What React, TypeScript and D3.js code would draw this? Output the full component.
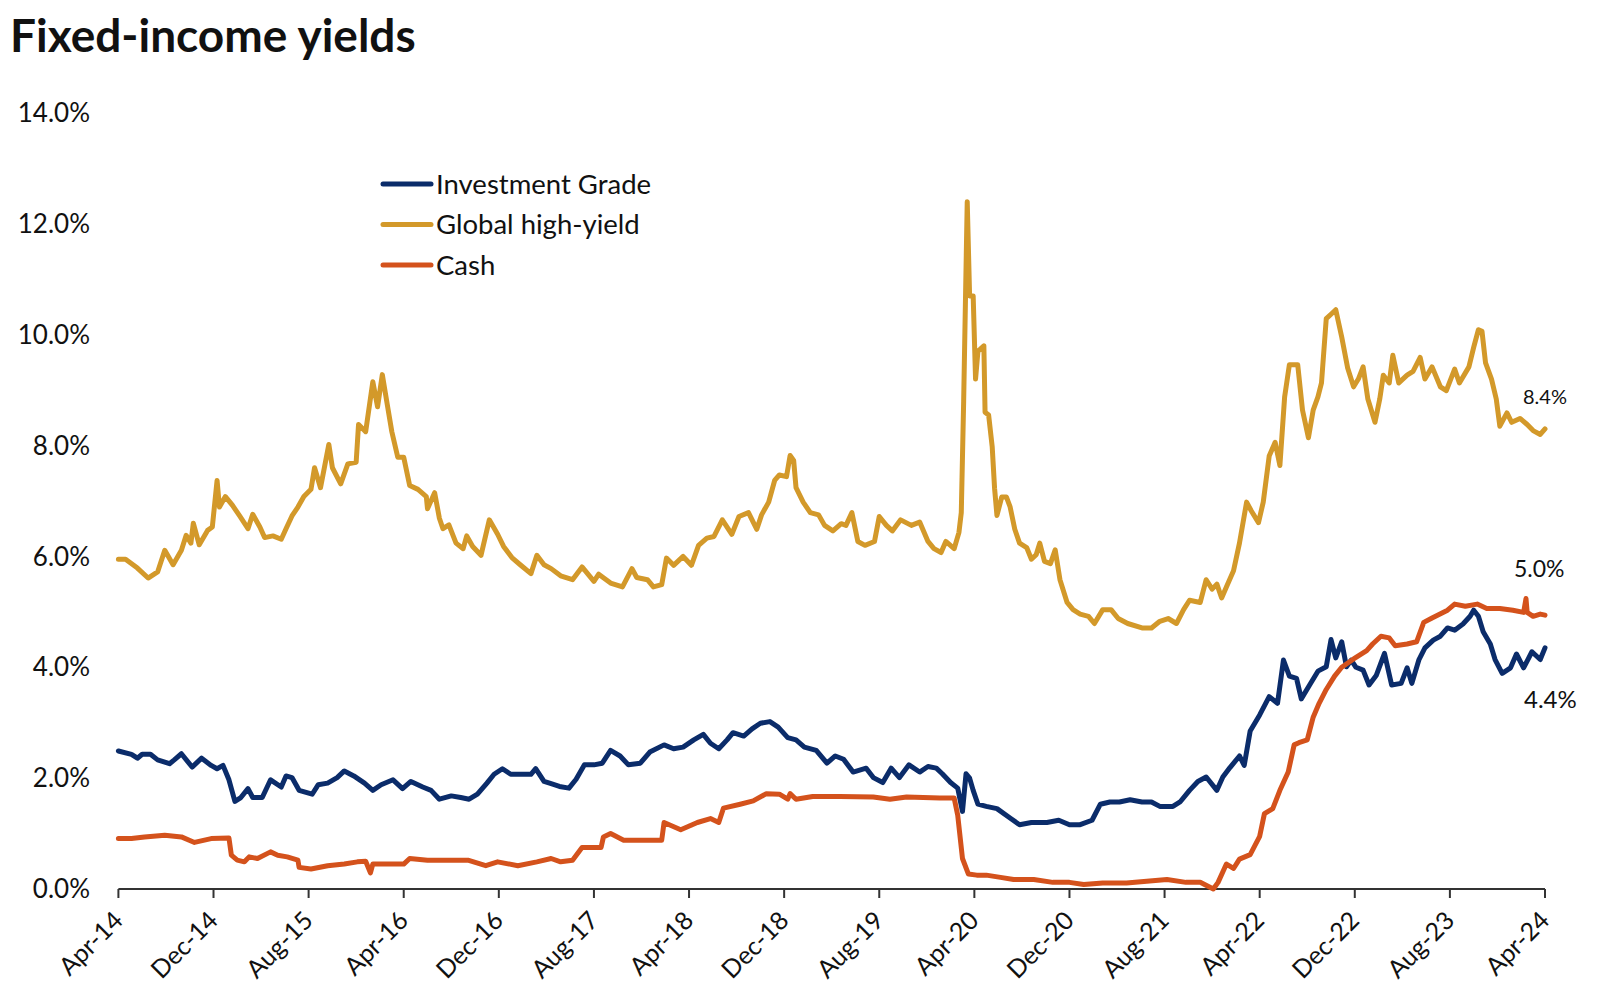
import React from "react";
import * as d3 from "d3";

// month offset from Apr-14, yield in %
const highYield: [number, number][] = [
  [0,5.95],[0.6,5.95],[1.6,5.79],[2.5,5.61],[3.3,5.72],[3.9,6.11],[4.6,5.85],[5.3,6.11],[5.7,6.38],[6.1,6.24],[6.3,6.6],[6.8,6.21],[7.5,6.47],[7.9,6.53],[8.3,7.37],[8.5,6.89],[9.0,7.08],[9.6,6.92],[10.2,6.73],[10.9,6.5],[11.3,6.76],[11.9,6.53],[12.3,6.34],[13.0,6.37],[13.7,6.31],[14.1,6.5],[14.6,6.73],[15.1,6.89],[15.6,7.08],[16.2,7.21],[16.5,7.6],[17.0,7.24],[17.7,8.02],[18.0,7.6],[18.7,7.31],[19.3,7.67],[20.0,7.7],[20.2,8.38],[20.8,8.25],[21.4,9.15],[21.8,8.7],[22.2,9.28],[22.6,8.76],[23.0,8.25],[23.5,7.79],[24.0,7.79],[24.5,7.28],[25.2,7.21],[25.9,7.08],[26.0,6.86],[26.6,7.15],[27.0,6.69],[27.3,6.5],[27.8,6.57],[28.4,6.24],[29.0,6.14],[29.3,6.37],[29.8,6.18],[30.5,6.02],[31.2,6.66],[31.9,6.4],[32.4,6.18],[33.1,5.98],[33.8,5.85],[34.7,5.69],[35.2,6.02],[35.8,5.85],[36.4,5.78],[37.2,5.65],[38.2,5.58],[39.0,5.81],[40,5.55],[40.4,5.68],[41.4,5.52],[42.4,5.45],[43.2,5.78],[43.6,5.62],[44.5,5.58],[45.0,5.45],[45.7,5.49],[46.1,5.97],[46.7,5.84],[47.5,6.0],[48.2,5.84],[48.8,6.2],[49.5,6.33],[50.1,6.36],[50.8,6.66],[51.6,6.4],[52.2,6.72],[53.0,6.79],[53.7,6.49],[54.1,6.75],[54.7,6.98],[55.2,7.37],[55.6,7.47],[56.2,7.44],[56.5,7.82],[56.8,7.73],[57.0,7.24],[57.6,6.98],[58.2,6.79],[58.9,6.75],[59.4,6.56],[60.1,6.46],[60.8,6.59],[61.2,6.56],[61.7,6.79],[62.2,6.27],[62.8,6.2],[63.6,6.27],[64.0,6.72],[64.6,6.56],[65.1,6.46],[65.8,6.66],[66.7,6.56],[67.4,6.62],[68.1,6.27],[68.6,6.14],[69.2,6.07],[69.6,6.27],[70.3,6.14],[70.7,6.43],[70.9,6.79],[71.1,8.8],[71.4,12.4],[71.6,10.7],[71.9,10.7],[72.1,9.2],[72.3,9.7],[72.8,9.8],[72.9,8.6],[73.2,8.55],[73.5,7.98],[73.7,7.23],[73.9,6.74],[74.3,7.07],[74.7,7.07],[75.0,6.9],[75.4,6.49],[75.8,6.24],[76.4,6.16],[76.8,5.95],[77.2,6.03],[77.5,6.24],[77.9,5.91],[78.4,5.87],[78.8,6.12],[79.2,5.58],[79.8,5.17],[80.3,5.04],[80.9,4.96],[81.6,4.92],[82.1,4.79],[82.8,5.04],[83.5,5.04],[84.1,4.88],[84.9,4.79],[86.1,4.71],[86.9,4.71],[87.6,4.83],[88.3,4.88],[89.0,4.79],[89.6,5.04],[90.1,5.21],[91.0,5.17],[91.5,5.58],[92.0,5.41],[92.4,5.5],[92.8,5.25],[93.2,5.45],[93.8,5.74],[94.3,6.24],[94.9,6.98],[95.3,6.82],[95.9,6.61],[96.3,6.98],[96.8,7.81],[97.3,8.06],[97.7,7.64],[98.1,8.88],[98.5,9.46],[99.2,9.46],[99.6,8.64],[100.1,8.14],[100.5,8.64],[100.9,8.88],[101.2,9.13],[101.6,10.29],[102.0,10.37],[102.4,10.45],[102.9,9.96],[103.4,9.4],[103.9,9.06],[104.3,9.2],[104.7,9.42],[105.1,8.84],[105.7,8.42],[106.1,8.84],[106.4,9.27],[106.9,9.13],[107.2,9.63],[107.7,9.13],[108.4,9.27],[108.9,9.34],[109.5,9.59],[109.9,9.2],[110.5,9.42],[111.2,9.06],[111.7,8.99],[112.4,9.38],[112.8,9.13],[113.6,9.42],[114.0,9.77],[114.4,10.09],[114.7,10.06],[115.0,9.49],[115.5,9.2],[115.9,8.84],[116.2,8.35],[116.8,8.59],[117.2,8.42],[117.9,8.49],[118.5,8.38],[119.0,8.27],[119.6,8.2],[120,8.3]
];

const investmentGrade: [number, number][] = [
  [0,2.49],[1.1,2.43],[1.6,2.36],[2.0,2.43],[2.7,2.43],[3.3,2.33],[4.3,2.26],[4.7,2.33],[5.3,2.44],[6.2,2.2],[7.0,2.36],[7.8,2.23],[8.3,2.17],[8.8,2.23],[9.3,1.97],[9.8,1.58],[10.3,1.65],[10.9,1.81],[11.3,1.65],[12.1,1.65],[12.8,1.97],[13.7,1.84],[14.1,2.04],[14.6,2.01],[15.2,1.78],[16.3,1.71],[16.8,1.88],[17.6,1.91],[18.4,2.01],[19.0,2.13],[19.8,2.04],[20.7,1.91],[21.4,1.78],[22.1,1.88],[23.1,1.97],[23.9,1.81],[24.6,1.94],[25.6,1.84],[26.3,1.78],[27.0,1.62],[28.0,1.68],[28.8,1.65],[29.5,1.62],[30.2,1.71],[31.0,1.91],[31.6,2.07],[32.3,2.17],[33.0,2.07],[33.8,2.07],[34.7,2.07],[35.1,2.17],[35.8,1.94],[36.4,1.9],[37.1,1.85],[37.9,1.82],[38.5,1.98],[39.2,2.24],[40,2.24],[40.7,2.27],[41.4,2.5],[42.2,2.4],[42.9,2.24],[43.9,2.27],[44.7,2.47],[45.9,2.6],[46.7,2.53],[47.5,2.56],[48.4,2.69],[49.2,2.79],[49.8,2.63],[50.5,2.53],[51.2,2.69],[51.7,2.82],[52.6,2.76],[53.3,2.89],[54.0,2.99],[54.8,3.02],[55.5,2.92],[56.3,2.73],[57.0,2.69],[57.7,2.56],[58.7,2.5],[59.6,2.27],[60.3,2.4],[61.0,2.34],[61.8,2.11],[62.9,2.18],[63.5,2.01],[64.3,1.92],[65.0,2.18],[65.7,2.01],[66.5,2.24],[67.4,2.11],[68.1,2.21],[68.8,2.18],[69.3,2.08],[70.0,1.92],[70.6,1.82],[71.0,1.4],[71.3,2.08],[71.6,2.0],[71.9,1.78],[72.3,1.53],[73.0,1.49],[73.9,1.45],[75.0,1.28],[75.8,1.16],[76.8,1.2],[78.1,1.2],[79.1,1.24],[80.0,1.16],[80.9,1.16],[81.9,1.24],[82.6,1.53],[83.4,1.57],[84.2,1.57],[85.1,1.61],[86.1,1.57],[86.9,1.57],[87.6,1.49],[88.7,1.49],[89.3,1.57],[90.1,1.78],[90.8,1.94],[91.5,2.02],[92.4,1.78],[92.9,2.02],[93.5,2.19],[94.3,2.4],[94.7,2.23],[95.2,2.85],[96.0,3.14],[96.8,3.47],[97.5,3.35],[98.0,4.13],[98.5,3.84],[99.1,3.8],[99.5,3.43],[100.2,3.68],[100.9,3.93],[101.6,4.01],[102.0,4.5],[102.4,4.17],[102.9,4.46],[103.3,4.01],[103.7,4.13],[104.1,4.0],[104.7,3.95],[105.2,3.68],[105.8,3.85],[106.5,4.25],[107.1,3.68],[107.9,3.71],[108.4,3.99],[108.8,3.71],[109.4,4.14],[109.9,4.35],[110.6,4.49],[111.2,4.56],[111.8,4.71],[112.4,4.67],[113.1,4.78],[113.7,4.92],[114.0,5.03],[114.4,4.92],[114.8,4.64],[115.4,4.42],[115.8,4.14],[116.4,3.89],[117.1,3.99],[117.6,4.24],[118.2,3.99],[118.9,4.28],[119.6,4.14],[120,4.35]
];

const cash: [number, number][] = [
  [0,0.91],[1.1,0.91],[2.2,0.94],[3.9,0.97],[5.3,0.94],[6.4,0.84],[7.8,0.91],[9.3,0.92],[9.5,0.61],[10.0,0.52],[10.6,0.49],[11.0,0.58],[11.7,0.55],[12.8,0.67],[13.4,0.61],[14.2,0.58],[15.1,0.52],[15.2,0.39],[16.2,0.36],[17.6,0.42],[19.0,0.45],[20.1,0.49],[20.8,0.5],[21.2,0.29],[21.4,0.45],[22.6,0.45],[24.0,0.45],[24.5,0.55],[26.0,0.52],[27.7,0.52],[29.4,0.52],[30.9,0.42],[31.9,0.49],[33.6,0.42],[35.2,0.49],[36.4,0.55],[37.2,0.49],[38.2,0.52],[39.0,0.75],[40.6,0.75],[40.8,0.94],[41.4,1.0],[42.5,0.88],[43.9,0.88],[45.7,0.88],[45.9,1.2],[47.3,1.07],[48.7,1.2],[49.8,1.27],[50.5,1.2],[50.9,1.46],[52.3,1.53],[53.4,1.59],[54.5,1.72],[55.6,1.71],[56.3,1.62],[56.5,1.72],[57.0,1.62],[58.4,1.67],[60.7,1.67],[63.5,1.66],[64.9,1.62],[66.3,1.66],[69.1,1.64],[70.3,1.64],[70.6,1.33],[71.0,0.55],[71.5,0.27],[72.2,0.25],[73.0,0.25],[74.2,0.21],[75.3,0.17],[77.0,0.17],[78.6,0.12],[80.0,0.12],[81.2,0.08],[82.8,0.11],[84.8,0.11],[86.5,0.14],[88.2,0.17],[89.8,0.12],[91.0,0.12],[92.1,0.0],[92.5,0.12],[93.2,0.45],[93.8,0.37],[94.3,0.54],[95.2,0.62],[96.0,0.95],[96.4,1.36],[97.1,1.45],[97.7,1.78],[98.4,2.11],[98.9,2.6],[99.3,2.64],[100.0,2.69],[100.5,3.1],[101.0,3.35],[101.6,3.6],[102.3,3.84],[102.9,4.0],[103.9,4.15],[105.0,4.3],[105.5,4.42],[106.2,4.56],[106.9,4.53],[107.4,4.39],[108.4,4.42],[109.2,4.46],[109.8,4.81],[110.5,4.89],[111.8,5.03],[112.4,5.14],[113.3,5.1],[114.3,5.14],[115.1,5.06],[116.2,5.06],[117.3,5.03],[118.2,4.99],[118.4,5.24],[118.5,4.99],[119.0,4.92],[119.6,4.96],[120,4.94]
];

const xTickLabels = ["Apr-14","Dec-14","Aug-15","Apr-16","Dec-16","Aug-17","Apr-18","Dec-18","Aug-19","Apr-20","Dec-20","Aug-21","Apr-22","Dec-22","Aug-23","Apr-24"];
const yTicks = [0, 2, 4, 6, 8, 10, 12, 14];
const seriesNames = ["Investment Grade", "Global high-yield", "Cash"];
const seriesColors = ["#0B2C6A", "#D3992A", "#D4521C"];
const endLabels = ["4.4%", "8.4%", "5.0%"];

const FONT = "Lato, 'Open Sans', sans-serif";

export default function App() {
  const W = 1600, H = 993;
  const x = d3.scaleLinear().domain([0, 120]).range([118.4, 1545]);
  const y = d3.scaleLinear().domain([0, 14]).range([889, 113]);
  const line = d3.line<[number, number]>().x(d => x(d[0])).y(d => y(d[1]));
  const series = [investmentGrade, highYield, cash];
  const drawOrder = [1, 0, 2];
  const endPos = [
    { x: 1524, y: 700, size: 24 },
    { x: 1523, y: 397, size: 20 },
    { x: 1514, y: 569, size: 23 },
  ];
  return (
    <svg width={W} height={H} style={{ position: "absolute", left: 0, top: 0, background: "#fff" }} fontFamily={FONT}>
      <rect width={W} height={H} fill="#fff" />
      <text x={10} y={52} fontSize={46} fontWeight={700} fill="#111">Fixed-income yields</text>
      {yTicks.map(t => (
        <text key={t} x={90} y={y(t)} dy="0.35em" textAnchor="end" fontSize={26} fill="#111">{t.toFixed(1)}%</text>
      ))}
      <line x1={x(0)} x2={x(120)} y1={y(0)} y2={y(0)} stroke="#333" strokeWidth={2} />
      {xTickLabels.map((lab, i) => {
        const tx = x(i * 8);
        return (
          <g key={lab}>
            <line x1={tx} x2={tx} y1={y(0)} y2={y(0) + 9} stroke="#333" strokeWidth={2} />
            <text transform={`translate(${tx + 6},${922}) rotate(-45)`} textAnchor="end" fontSize={25} fill="#111">{lab}</text>
          </g>
        );
      })}
      {drawOrder.map(i => (
        <path key={i} d={line(series[i]) || ""} fill="none" stroke={seriesColors[i]} strokeWidth={5} strokeLinejoin="round" strokeLinecap="round" />
      ))}
      {seriesNames.map((n, i) => (
        <g key={n}>
          <line x1={383} x2={431} y1={184 + i * 40.5} y2={184 + i * 40.5} stroke={seriesColors[i]} strokeWidth={5} strokeLinecap="round" />
          <text x={436} y={184 + i * 40.5} dy="0.35em" fontSize={27.5} fill="#111">{n}</text>
        </g>
      ))}
      {endLabels.map((l, i) => (
        <text key={l} x={endPos[i].x} y={endPos[i].y} dy="0.35em" fontSize={endPos[i].size} fill="#111">{l}</text>
      ))}
    </svg>
  );
}
